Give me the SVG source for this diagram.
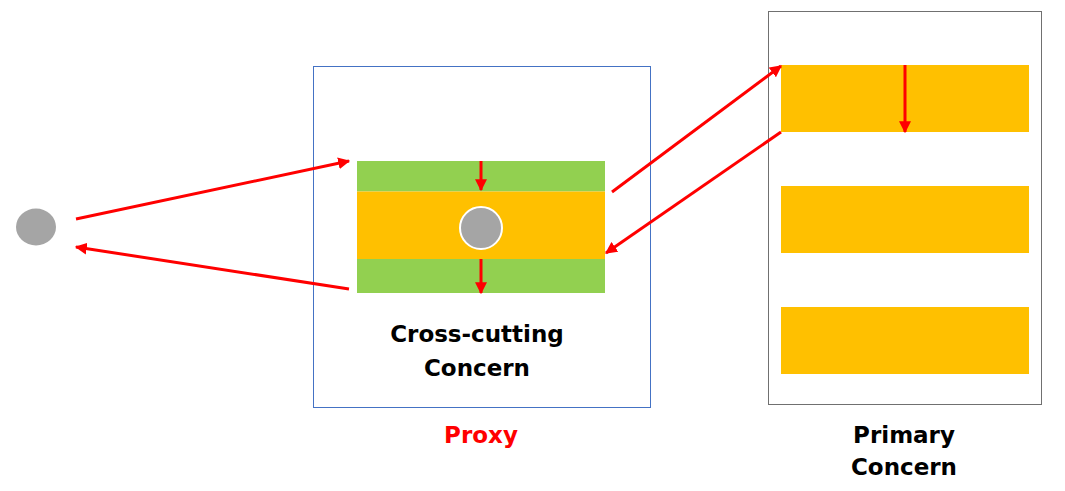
<svg xmlns="http://www.w3.org/2000/svg" width="1065" height="491" viewBox="0 0 1065 491">
<style>
.lbl{font-family:"DejaVu Sans","Liberation Sans",sans-serif;font-weight:bold;font-size:23px;text-anchor:middle;fill:#000}
.red{fill:#FF0000}
.conn line{stroke:#FF0000;stroke-width:3;marker-end:url(#ah)}
.orange{fill:#FFC000}
.green{fill:#92D050}
</style>
<defs>
<marker id="ah" viewBox="0 0 10 10" refX="9" refY="5" markerWidth="4" markerHeight="4" orient="auto" markerUnits="strokeWidth">
<path d="M0,0 L10,5 L0,10 z" fill="#FF0000"/>
</marker>
</defs>
<rect width="1065" height="491" fill="#fff"/>
<g id="client">
<ellipse cx="36" cy="227" rx="20" ry="18.5" fill="#A5A5A5"/>
</g>
<g id="proxy">
<rect x="313.5" y="66.5" width="337" height="341" fill="none" stroke="#4472C4" stroke-width="1"/>
<rect class="green" x="357" y="161" width="248" height="30.5"/>
<rect class="orange" x="357" y="191.5" width="248" height="67.5"/>
<rect class="green" x="357" y="259" width="248" height="34"/>
<circle cx="481" cy="228" r="21" fill="#A5A5A5" stroke="#fff" stroke-width="2"/>
<text class="lbl" x="477" y="342">Cross-cutting</text>
<text class="lbl" x="477" y="376">Concern</text>
<text class="lbl red" x="481" y="443">Proxy</text>
</g>
<g id="primary">
<rect x="768.5" y="11.5" width="273" height="393" fill="none" stroke="#707070" stroke-width="1"/>
<rect class="orange" x="781" y="65" width="248" height="67"/>
<rect class="orange" x="781" y="186" width="248" height="67"/>
<rect class="orange" x="781" y="307" width="248" height="67"/>
<text class="lbl" x="904" y="443">Primary</text>
<text class="lbl" x="904" y="475">Concern</text>
</g>
<g class="conn" id="connectors">
<line x1="76" y1="219" x2="349" y2="161"/>
<line x1="349" y1="289" x2="76" y2="247"/>
<line x1="612" y1="192" x2="781" y2="66"/>
<line x1="781" y1="132" x2="606" y2="253"/>
<line x1="481" y1="161" x2="481" y2="190"/>
<line x1="481" y1="259" x2="481" y2="293"/>
<line x1="905" y1="65" x2="905" y2="132"/>
</g>
</svg>
